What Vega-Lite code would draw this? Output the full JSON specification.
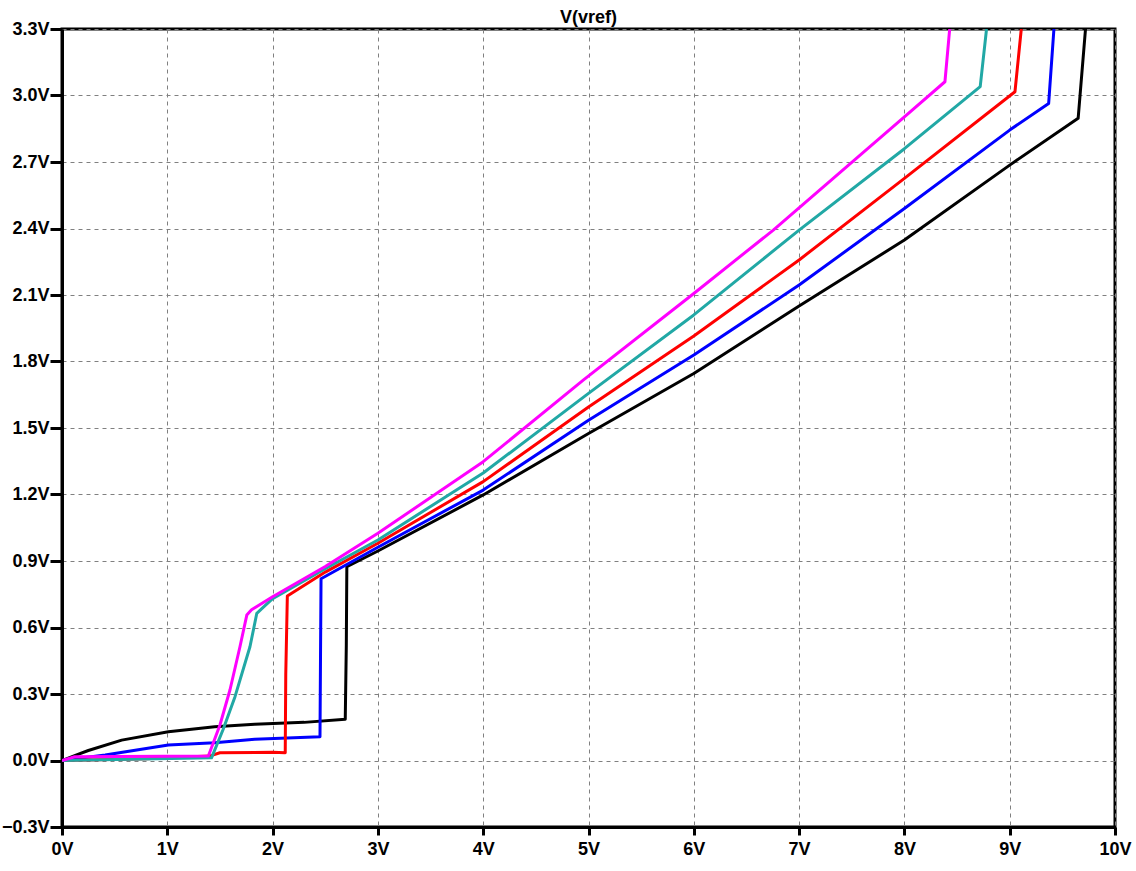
{
  "$schema": "https://vega.github.io/schema/vega-lite/v6.json",
  "width": 1053,
  "height": 798,
  "autosize": {"type": "none"},
  "padding": {"left": 62, "top": 29, "right": 21, "bottom": 44},
  "background": "#ffffff",
  "title": {"text": "V(vref)", "font": "Liberation Sans", "fontSize": 18, "fontWeight": "bold", "color": "#000000", "anchor": "middle", "offset": -7},
  "config": {
    "view": {"stroke": "#000000", "strokeWidth": 3},
    "axis": {"labelFont": "Liberation Sans", "labelFontSize": 18, "labelFontWeight": "bold", "labelColor": "#000000", "domainColor": "#000000", "domainWidth": 3, "tickColor": "#000000", "tickWidth": 3, "gridColor": "#808080", "gridDash": [4, 4], "gridWidth": 1, "gridOpacity": 1, "labelOverlap": false, "labelFlush": false, "title": null}
  },
  "data": {"values": [
    {"s": "k", "x": 0, "y": 0}, {"s": "k", "x": 0.12, "y": 0.022}, {"s": "k", "x": 0.25, "y": 0.045}, {"s": "k", "x": 0.567, "y": 0.092}, {"s": "k", "x": 1.01, "y": 0.13}, {"s": "k", "x": 1.45, "y": 0.152}, {"s": "k", "x": 1.83, "y": 0.163}, {"s": "k", "x": 2.3, "y": 0.172}, {"s": "k", "x": 2.69, "y": 0.186}, {"s": "k", "x": 2.7, "y": 0.52}, {"s": "k", "x": 2.705, "y": 0.874}, {"s": "k", "x": 3, "y": 0.945}, {"s": "k", "x": 4, "y": 1.198}, {"s": "k", "x": 5, "y": 1.475}, {"s": "k", "x": 6, "y": 1.746}, {"s": "k", "x": 7, "y": 2.05}, {"s": "k", "x": 8, "y": 2.348}, {"s": "k", "x": 9, "y": 2.686}, {"s": "k", "x": 9.65, "y": 2.897}, {"s": "k", "x": 9.72, "y": 3.3},
    {"s": "b", "x": 0, "y": 0}, {"s": "b", "x": 0.41, "y": 0.025}, {"s": "b", "x": 1.01, "y": 0.07}, {"s": "b", "x": 1.45, "y": 0.08}, {"s": "b", "x": 1.83, "y": 0.096}, {"s": "b", "x": 2.45, "y": 0.107}, {"s": "b", "x": 2.455, "y": 0.47}, {"s": "b", "x": 2.46, "y": 0.82}, {"s": "b", "x": 3, "y": 0.962}, {"s": "b", "x": 4, "y": 1.22}, {"s": "b", "x": 5, "y": 1.535}, {"s": "b", "x": 6, "y": 1.829}, {"s": "b", "x": 7, "y": 2.145}, {"s": "b", "x": 8, "y": 2.49}, {"s": "b", "x": 9, "y": 2.844}, {"s": "b", "x": 9.37, "y": 2.964}, {"s": "b", "x": 9.42, "y": 3.3},
    {"s": "r", "x": 0, "y": 0}, {"s": "r", "x": 0.8, "y": 0.008}, {"s": "r", "x": 1.4, "y": 0.02}, {"s": "r", "x": 1.5, "y": 0.035}, {"s": "r", "x": 2.0, "y": 0.037}, {"s": "r", "x": 2.12, "y": 0.035}, {"s": "r", "x": 2.125, "y": 0.39}, {"s": "r", "x": 2.14, "y": 0.742}, {"s": "r", "x": 2.5, "y": 0.85}, {"s": "r", "x": 3, "y": 0.98}, {"s": "r", "x": 4, "y": 1.258}, {"s": "r", "x": 5, "y": 1.595}, {"s": "r", "x": 6, "y": 1.915}, {"s": "r", "x": 7, "y": 2.258}, {"s": "r", "x": 8, "y": 2.626}, {"s": "r", "x": 9.05, "y": 3.017}, {"s": "r", "x": 9.11, "y": 3.3},
    {"s": "c", "x": 0, "y": 0}, {"s": "c", "x": 1.42, "y": 0.012}, {"s": "c", "x": 1.53, "y": 0.14}, {"s": "c", "x": 1.643, "y": 0.288}, {"s": "c", "x": 1.785, "y": 0.513}, {"s": "c", "x": 1.85, "y": 0.664}, {"s": "c", "x": 1.9, "y": 0.686}, {"s": "c", "x": 2.0, "y": 0.73}, {"s": "c", "x": 2.5, "y": 0.865}, {"s": "c", "x": 3, "y": 0.995}, {"s": "c", "x": 4, "y": 1.297}, {"s": "c", "x": 5, "y": 1.656}, {"s": "c", "x": 6, "y": 2.01}, {"s": "c", "x": 7, "y": 2.393}, {"s": "c", "x": 8, "y": 2.76}, {"s": "c", "x": 8.72, "y": 3.04}, {"s": "c", "x": 8.78, "y": 3.3},
    {"s": "m", "x": 0, "y": 0}, {"s": "m", "x": 0.12, "y": 0.017}, {"s": "m", "x": 1.39, "y": 0.02}, {"s": "m", "x": 1.5, "y": 0.16}, {"s": "m", "x": 1.595, "y": 0.318}, {"s": "m", "x": 1.69, "y": 0.513}, {"s": "m", "x": 1.755, "y": 0.656}, {"s": "m", "x": 1.8, "y": 0.68}, {"s": "m", "x": 2.0, "y": 0.739}, {"s": "m", "x": 2.5, "y": 0.875}, {"s": "m", "x": 3, "y": 1.025}, {"s": "m", "x": 4, "y": 1.348}, {"s": "m", "x": 4.95, "y": 1.716}, {"s": "m", "x": 6, "y": 2.107}, {"s": "m", "x": 6.755, "y": 2.393}, {"s": "m", "x": 8, "y": 2.904}, {"s": "m", "x": 8.385, "y": 3.062}, {"s": "m", "x": 8.43, "y": 3.3}
  ]},
  "mark": {"type": "line", "strokeWidth": 3, "clip": true, "strokeJoin": "round"},
  "encoding": {
    "x": {"field": "x", "type": "quantitative", "scale": {"domain": [0, 10], "nice": false, "zero": false},
      "axis": {"values": [0, 1, 2, 3, 4, 5, 6, 7, 8, 9, 10], "labelExpr": "datum.value + 'V'", "tickSize": 8, "labelPadding": 5}},
    "y": {"field": "y", "type": "quantitative", "scale": {"domain": [-0.3, 3.3], "nice": false, "zero": false},
      "axis": {"values": [-0.3, 0, 0.3, 0.6, 0.9, 1.2, 1.5, 1.8, 2.1, 2.4, 2.7, 3.0, 3.3], "labelExpr": "format(datum.value, '.1f') + 'V'", "tickSize": 12, "labelPadding": 1}},
    "color": {"field": "s", "type": "nominal", "scale": {"domain": ["k", "b", "r", "c", "m"], "range": ["#000000", "#0000ff", "#ff0000", "#21a8a5", "#ff00ff"]}, "legend": null}
  }
}
